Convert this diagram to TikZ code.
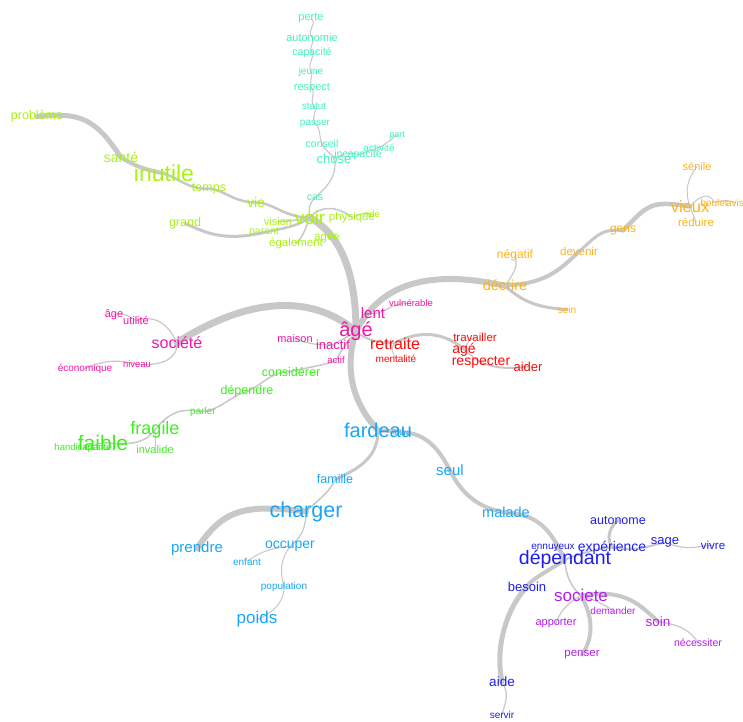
\documentclass[tikz,border=0pt]{standalone}
\usepackage{fontspec}
\setmainfont{Liberation Sans}
\pgfdeclarelayer{back}
\pgfdeclarelayer{bg}
\pgfsetlayers{back,bg,main}
\definecolor{cmint}{HTML}{40F2BE}
\definecolor{cyg}{HTML}{AAF214}
\definecolor{corange}{HTML}{FFB21A}
\definecolor{cmag}{HTML}{F514A6}
\definecolor{cred}{HTML}{FF0A0A}
\definecolor{cgreen}{HTML}{3CF01E}
\definecolor{csky}{HTML}{1AA6F5}
\definecolor{cblue}{HTML}{1E1EF0}
\definecolor{cpurp}{HTML}{B41EF0}
\definecolor{cedge}{HTML}{C8C8C8}
\tikzset{
  wd/.style={font=\fontsize{#1}{#1}\selectfont, inner sep=0pt, yshift=-1.5pt},
  ed/.style={draw=cedge, line width=#1, line cap=round, line join=round},
}
\begin{document}
\begin{tikzpicture}[x=1pt,y=-1pt]
\begin{pgfonlayer}{back}
\fill[white] (0,0) rectangle (743,721);
\end{pgfonlayer}
\useasboundingbox (0,0) rectangle (743,721);
% ---------- mint group
\begin{scope}[text=cmint]
\node[wd=11] (perte) at (311,17) {perte};
\node[wd=11] (autonomie) at (312,36) {autonomie};
\node[wd=10.5] (capacite) at (312,51) {capacité};
\node[wd=10] (jeune) at (311,70) {jeune};
\node[wd=11] (respect) at (312,87) {respect};
\node[wd=10] (statut) at (314,105) {statut};
\node[wd=10] (passer) at (315,122) {passer};
\node[wd=10.5] (conseil) at (322,142) {conseil};
\node[wd=13] (chose) at (334,157) {chose};
\node[wd=10.5] (incapacite) at (358,153) {incapacité};
\node[wd=10] (activite) at (379,146) {activité};
\node[wd=9] (part) at (397,134) {part};
\node[wd=10.5] (cas) at (315,196) {cas};
\end{scope}
% ---------- yellow-green group
\begin{scope}[text=cyg]
\node[wd=12.5] (probleme) at (37,115) {problème};
\node[wd=14] (sante) at (121,156) {santé};
\node[wd=23] (inutile) at (164,172) {inutile};
\node[wd=12.5] (temps) at (209,187) {temps};
\node[wd=14] (vie) at (256,201) {vie};
\node[wd=12.5] (grand) at (185,222) {grand};
\node[wd=19] (voir) at (310,216) {voir};
\node[wd=11] (vision) at (278,220) {vision};
\node[wd=10.5] (parent) at (264,231) {parent};
\node[wd=11.5] (egalement) at (296,242) {également};
\node[wd=11.5] (physique) at (352,216) {physique};
\node[wd=9.5] (ride) at (372,213) {ride};
\node[wd=11.5] (agee) at (327,236) {agée};
\end{scope}
% ---------- orange group
\begin{scope}[text=corange]
\node[wd=14.5] (decrire) at (505,284) {décrire};
\node[wd=12] (negatif) at (515,254) {négatif};
\node[wd=10] (sein) at (567,308) {sein};
\node[wd=11.5] (devenir) at (579,250) {devenir};
\node[wd=12] (gens) at (623,229) {gens};
\node[wd=16.5] (vieux) at (690,205) {vieux};
\node[wd=11] (senile) at (697,165) {sénile};
\node[wd=10] (boulet) at (714,201) {boulet};
\node[wd=10] (avis) at (735,201) {avis};
\node[wd=11.5] (reduire) at (696,221) {réduire};
\end{scope}
% ---------- magenta group
\begin{scope}[text=cmag]
\node[wd=20] (age) at (356,330) {âgé};
\node[wd=15] (lent) at (373,312) {lent};
\node[wd=9.5] (vulnerable) at (411,302) {vulnérable};
\node[wd=11] (maison) at (295,337) {maison};
\node[wd=13] (inactif) at (333,343) {inactif};
\node[wd=9.5] (actif) at (336,359) {actif};
\node[wd=16] (societe) at (177,341) {société};
\node[wd=11] (age2) at (114,313) {âge};
\node[wd=11] (utilite) at (136,319) {utilité};
\node[wd=9.5] (niveau) at (137,363) {niveau};
\node[wd=10] (economique) at (85,367) {économique};
\end{scope}
% ---------- red group
\begin{scope}[text=cred]
\node[wd=16] (retraite) at (395,342) {retraite};
\node[wd=10] (mentalite) at (396,357) {mentalité};
\node[wd=11.5] (travailler) at (475,336) {travailler};
\node[wd=14] (age3) at (464,348) {agé};
\node[wd=14] (respecter) at (481,361) {respecter};
\node[wd=13] (aider) at (528,365) {aider};
\end{scope}
% ---------- green group
\begin{scope}[text=cgreen]
\node[wd=12.5] (considerer) at (291,370) {considérer};
\node[wd=12.5] (dependre) at (247,390) {dépendre};
\node[wd=10] (parler) at (203,410) {parler};
\node[wd=18] (fragile) at (155,428) {fragile};
\node[wd=21] (faible) at (103,441) {faible};
\node[wd=9.5] (handicapante) at (83,447) {handicapante};
\node[wd=11] (invalide) at (155,448) {invalide};
\end{scope}
% ---------- sky group
\begin{scope}[text=csky]
\node[wd=20] (fardeau) at (378,429) {fardeau};
\node[wd=8] (lourd) at (402,431) {lourd};
\node[wd=12.5] (famille) at (335,478) {famille};
\node[wd=15] (seul) at (450,469) {seul};
\node[wd=14.5] (malade) at (506,511) {malade};
\node[wd=21.5] (charger) at (306,510) {charger};
\node[wd=15] (prendre) at (197,547) {prendre};
\node[wd=14] (occuper) at (290,545) {occuper};
\node[wd=10] (enfant) at (247,560) {enfant};
\node[wd=10] (population) at (284,585) {population};
\node[wd=17] (poids) at (257,618) {poids};
\end{scope}
% ---------- blue group
\begin{scope}[text=cblue]
\node[wd=19.5] (dependant) at (565,558) {dépendant};
\node[wd=10] (ennuyeux) at (553,546) {ennuyeux};
\node[wd=14] (experience) at (612,546) {expérience};
\node[wd=12.5] (autonome) at (618,519) {autonome};
\node[wd=13] (sage) at (665,541) {sage};
\node[wd=11.5] (vivre) at (713,544) {vivre};
\node[wd=13] (besoin) at (527,585) {besoin};
\node[wd=13.5] (aide) at (502,680) {aide};
\node[wd=10] (servir) at (502,713) {servir};
\end{scope}
% ---------- purple group
\begin{scope}[text=cpurp]
\node[wd=17] (societe2) at (581,594) {societe};
\node[wd=10] (demander) at (613,609) {demander};
\node[wd=11] (apporter) at (556,622) {apporter};
\node[wd=11.5] (penser) at (582,653) {penser};
\node[wd=13.5] (soin) at (658,620) {soin};
\node[wd=10.5] (necessiter) at (698,641) {nécessiter};
\end{scope}
% ================= edges
\begin{pgfonlayer}{bg}
% mint
\draw[ed=1] (perte.center) .. controls (318,24) and (306,30) .. (autonomie.center);
\draw[ed=1] (autonomie.center) .. controls (316,42) and (308,46) .. (capacite.center);
\draw[ed=1] (capacite.center) .. controls (315,58) and (307,63) .. (jeune.center);
\draw[ed=1] (jeune.center) .. controls (314,76) and (308,81) .. (respect.center);
\draw[ed=1] (respect.center) .. controls (316,94) and (309,99) .. (statut.center);
\draw[ed=1] (statut.center) .. controls (318,111) and (311,116) .. (passer.center);
\draw[ed=1] (passer.center) .. controls (322,130) and (318,135) .. (conseil.center);
\draw[ed=1.2] (conseil.center) .. controls (324,150) and (330,152) .. (chose.center);
\draw[ed=1] (chose.center) .. controls (345,153) and (352,152) .. (incapacite.center);
\draw[ed=1] (incapacite.center) .. controls (366,152) and (372,150) .. (activite.center);
\draw[ed=1] (activite.center) .. controls (388,143) and (392,138) .. (part.center);
\draw[ed=1.2] (chose.center) .. controls (338,172) and (330,185) .. (cas.center);
\draw[ed=1.2] (cas.center) .. controls (310,203) and (308,208) .. (voir.center);
% yellow-green
\draw[ed=5] (probleme.center) .. controls (80,112) and (95,118) .. (sante.center);
\draw[ed=4] (sante.center) .. controls (138,168) and (148,170) .. (inutile.center);
\draw[ed=2.5] (inutile.center) .. controls (182,180) and (190,190) .. (temps.center);
\draw[ed=2.5] (temps.center) .. controls (225,190) and (232,202) .. (vie.center);
\draw[ed=2.5] (vie.center) .. controls (272,202) and (285,218) .. (voir.center);
\draw[ed=3] (grand.center) .. controls (205,232) and (222,242) .. (parent.center);
\draw[ed=2.5] (parent.center) .. controls (285,228) and (298,226) .. (voir.center);
\draw[ed=1.5] (vision.center) .. controls (290,221) and (300,220) .. (voir.center);
\draw[ed=1.5] (egalement.center) .. controls (305,235) and (306,225) .. (voir.center);
\draw[ed=1.5] (voir.center) .. controls (320,205) and (338,206) .. (physique.center);
\draw[ed=1] (physique.center) .. controls (360,214) and (366,212) .. (ride.center);
\draw[ed=7] (voir.center) .. controls (335,232) and (356,262) .. (age.center);
% orange
\draw[ed=6] (age.center) .. controls (372,300) and (400,278) .. (455,279)
  .. controls (480,280) and (495,284) .. (decrire.center);
\draw[ed=4] (decrire.center) .. controls (545,284) and (560,270) .. (devenir.center);
\draw[ed=3] (devenir.center) .. controls (595,238) and (600,228) .. (gens.center);
\draw[ed=4.5] (gens.center) .. controls (648,205) and (650,200) .. (vieux.center);
\draw[ed=1.2] (decrire.center) .. controls (515,272) and (518,266) .. (negatif.center);
\draw[ed=3] (decrire.center) .. controls (525,305) and (545,308) .. (sein.center);
\draw[ed=1] (vieux.center) .. controls (684,190) and (688,178) .. (senile.center);
\draw[ed=1] (vieux.center) .. controls (692,212) and (694,216) .. (reduire.center);
\draw[ed=1] (vieux.center) .. controls (700,195) and (710,192) .. (boulet.center);
\draw[ed=1] (boulet.center) .. controls (722,200) and (728,200) .. (avis.center);
% magenta
\draw[ed=7] (age.center) .. controls (320,300) and (260,290) .. (societe.center);
\draw[ed=1.2] (societe.center) .. controls (165,318) and (150,316) .. (utilite.center);
\draw[ed=1.2] (utilite.center) .. controls (125,313) and (120,313) .. (age2.center);
\draw[ed=1.2] (societe.center) .. controls (178,360) and (160,366) .. (niveau.center);
\draw[ed=1.2] (niveau.center) .. controls (115,358) and (100,362) .. (economique.center);
\draw[ed=1.5] (age.center) .. controls (360,320) and (365,314) .. (lent.center);
\draw[ed=1.2] (lent.center) .. controls (385,314) and (390,302) .. (vulnerable.center);
\draw[ed=1.2] (maison.center) .. controls (310,345) and (320,345) .. (inactif.center);
\draw[ed=1.5] (inactif.center) .. controls (342,340) and (350,335) .. (age.center);
\draw[ed=1.5] (age.center) .. controls (345,345) and (340,352) .. (actif.center);
% red
\draw[ed=2] (age.center) .. controls (365,340) and (380,343) .. (retraite.center);
\draw[ed=1] (retraite.center) .. controls (390,348) and (392,352) .. (mentalite.center);
\draw[ed=3] (retraite.center) .. controls (412,333) and (440,328) .. (age3.center);
\draw[ed=1] (age3.center) .. controls (468,342) and (470,338) .. (travailler.center);
\draw[ed=1.2] (age3.center) .. controls (470,355) and (475,358) .. (respecter.center);
\draw[ed=2] (respecter.center) .. controls (500,370) and (515,368) .. (aider.center);
% green
\draw[ed=1.5] (actif.center) .. controls (325,365) and (305,368) .. (considerer.center);
\draw[ed=1.5] (considerer.center) .. controls (270,372) and (262,385) .. (dependre.center);
\draw[ed=1.5] (dependre.center) .. controls (232,395) and (220,410) .. (parler.center);
\draw[ed=1.5] (parler.center) .. controls (180,408) and (170,412) .. (fragile.center);
\draw[ed=1.5] (fragile.center) .. controls (145,445) and (125,445) .. (faible.center);
\draw[ed=1] (faible.center) .. controls (95,445) and (90,446) .. (handicapante.center);
\draw[ed=1] (fragile.center) .. controls (155,436) and (156,442) .. (invalide.center);
% sky
\draw[ed=6] (age.center) .. controls (345,365) and (350,400) .. (fardeau.center);
\draw[ed=4] (fardeau.center) .. controls (395,431) and (405,431) .. (lourd.center);
\draw[ed=4] (lourd.center) .. controls (425,432) and (440,450) .. (seul.center);
\draw[ed=4] (seul.center) .. controls (460,490) and (475,508) .. (malade.center);
\draw[ed=4] (malade.center) .. controls (540,515) and (550,530) .. (dependant.center);
\draw[ed=3] (fardeau.center) .. controls (378,460) and (355,470) .. (famille.center);
\draw[ed=1.5] (famille.center) .. controls (330,492) and (318,500) .. (charger.center);
\draw[ed=6] (charger.center) .. controls (240,503) and (222,512) .. (prendre.center);
\draw[ed=1.2] (charger.center) .. controls (306,530) and (300,538) .. (occuper.center);
\draw[ed=1] (occuper.center) .. controls (270,548) and (260,552) .. (enfant.center);
\draw[ed=1] (occuper.center) .. controls (280,560) and (280,572) .. (population.center);
\draw[ed=1] (population.center) .. controls (285,600) and (275,612) .. (poids.center);
% blue
\draw[ed=1.5] (dependant.center) .. controls (560,552) and (556,548) .. (ennuyeux.center);
\draw[ed=2] (dependant.center) .. controls (585,552) and (600,548) .. (experience.center);
\draw[ed=3] (experience.center) .. controls (605,535) and (612,525) .. (autonome.center);
\draw[ed=2] (experience.center) .. controls (640,552) and (650,545) .. (sage.center);
\draw[ed=1.2] (sage.center) .. controls (690,552) and (700,545) .. (vivre.center);
\draw[ed=4] (dependant.center) .. controls (550,570) and (530,580) .. (besoin.center);
\draw[ed=5] (besoin.center) .. controls (505,610) and (495,650) .. (aide.center);
\draw[ed=1.2] (aide.center) .. controls (510,695) and (505,703) .. (servir.center);
\draw[ed=1.5] (dependant.center) .. controls (565,575) and (572,588) .. (societe2.center);
% purple
\draw[ed=1.2] (societe2.center) .. controls (565,605) and (560,612) .. (apporter.center);
\draw[ed=4] (societe2.center) .. controls (595,620) and (592,640) .. (penser.center);
\draw[ed=1.2] (societe2.center) .. controls (595,600) and (605,605) .. (demander.center);
\draw[ed=4] (societe2.center) .. controls (625,588) and (640,605) .. (soin.center);
\draw[ed=1.2] (soin.center) .. controls (680,625) and (690,630) .. (necessiter.center);
\end{pgfonlayer}
\end{tikzpicture}
\end{document}
